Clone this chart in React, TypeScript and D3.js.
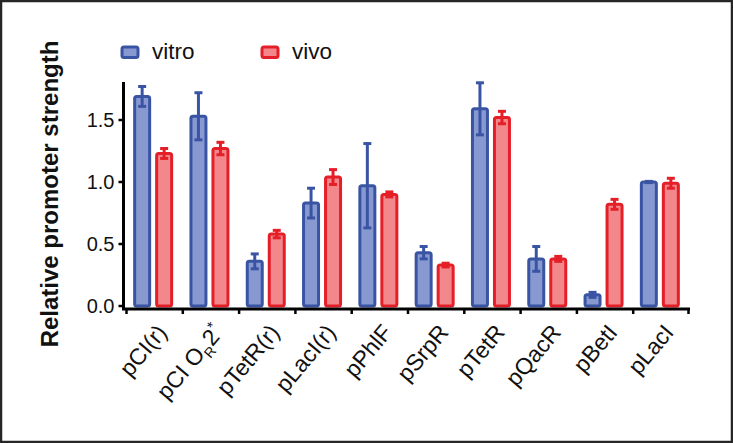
import React from "react";
import * as d3 from "d3";

const categories = ["pCI(r)", "pCI OR2*", "pTetR(r)", "pLacI(r)", "pPhlF", "pSrpR", "pTetR", "pQacR", "pBetI", "pLacI"];
const vitro = [1.69, 1.53, 0.36, 0.83, 0.97, 0.43, 1.59, 0.38, 0.09, 1.0];
const vitroErr = [0.08, 0.19, 0.06, 0.12, 0.34, 0.05, 0.21, 0.1, 0.02, 0.005];
const vivo = [1.23, 1.27, 0.58, 1.04, 0.9, 0.33, 1.52, 0.38, 0.82, 0.99];
const vivoErr = [0.04, 0.05, 0.03, 0.06, 0.02, 0.015, 0.05, 0.02, 0.04, 0.04];
const yTicks = [0, 0.5, 1.0, 1.5];
const seriesNames = ["vitro", "vivo"];

const W = 733;
const H = 443;
const FONT = "'Liberation Sans', Arial, Helvetica, sans-serif";
const BLUE = "#3a54a4";
const BLUE_FILL = "#8898d0";
const RED = "#e51f28";
const RED_FILL = "#f2878c";

export default function App() {
  const x = d3.scaleBand<string>().domain(categories).range([125, 688]).paddingInner(0).paddingOuter(0);
  const y = d3.scaleLinear().domain([0, 1.8]).range([306, 82.8]);
  const bw = x.bandwidth();
  const barW = 15;
  const axisY = 309;
  const axisX = 123.5;

  const series = [
    { name: seriesNames[0], vals: vitro, errs: vitroErr, stroke: BLUE, fill: BLUE_FILL, off: -18.5 },
    { name: seriesNames[1], vals: vivo, errs: vivoErr, stroke: RED, fill: RED_FILL, off: 3.5 },
  ];

  return (
    <svg width={W} height={H} style={{ position: "absolute", left: 0, top: 0, background: "#fff" }} fontFamily={FONT}>
      <rect x={1} y={1} width={W - 2} height={H - 2} fill="#fff" stroke="#262626" strokeWidth={2.5} />

      {/* legend */}
      {series.map((s, i) => (
        <g key={s.name} transform={`translate(${i === 0 ? 122 : 262},47)`}>
          <rect x={0} y={0} width={16} height={10.5} rx={2} fill={s.fill} stroke={s.stroke} strokeWidth={3} />
          <text x={30} y={11.5} fontSize={22.5} fill="#111">{s.name}</text>
        </g>
      ))}

      {/* y axis title */}
      <text transform={`translate(58,194) rotate(-90)`} textAnchor="middle" fontSize={24} fontWeight="bold" fill="#111">
        Relative promoter strength
      </text>

      {/* bars */}
      {series.map((s) => (
        <g key={s.name}>
          {categories.map((c, i) => {
            const cx = (x(c) as number) + bw / 2;
            const bx = cx + s.off;
            const top = y(s.vals[i]);
            const ex = bx + barW / 2;
            const e1 = y(s.vals[i] + s.errs[i]);
            const e0 = y(Math.max(0, s.vals[i] - s.errs[i]));
            return (
              <g key={c}>
                <rect x={bx} y={top} width={barW} height={y(0) - top} rx={2} fill={s.fill} stroke={s.stroke} strokeWidth={3} />
                <line x1={ex} x2={ex} y1={e1} y2={e0} stroke={s.stroke} strokeWidth={3} />
                <line x1={ex - 4} x2={ex + 4} y1={e1} y2={e1} stroke={s.stroke} strokeWidth={3} />
                <line x1={ex - 4} x2={ex + 4} y1={e0} y2={e0} stroke={s.stroke} strokeWidth={3} />
              </g>
            );
          })}
        </g>
      ))}

      {/* y axis */}
      <line x1={axisX} x2={axisX} y1={82} y2={axisY + 1} stroke="#000" strokeWidth={3} />
      {yTicks.map((t) => (
        <g key={t}>
          <line x1={axisX - 5} x2={axisX} y1={y(t)} y2={y(t)} stroke="#000" strokeWidth={2.5} />
          <text x={axisX - 9} y={y(t)} dy="0.36em" textAnchor="end" fontSize={20} fill="#111">
            {d3.format(".1f")(t)}
          </text>
        </g>
      ))}

      {/* x axis */}
      <line x1={axisX - 1.5} x2={690} y1={axisY} y2={axisY} stroke="#000" strokeWidth={3} />
      {categories.map((c) => (
        <line key={c} x1={(x(c) as number) + 1.5} x2={(x(c) as number) + 1.5} y1={axisY} y2={axisY + 5} stroke="#000" strokeWidth={2.5} />
      ))}
      <line x1={688.5} x2={688.5} y1={axisY} y2={axisY + 5} stroke="#000" strokeWidth={2.5} />

      {/* x labels */}
      {categories.map((c, i) => {
        const cx = (x(c) as number) + bw / 2;
        return (
          <text key={c} transform={`translate(${cx + 15},${333}) rotate(-50)`} textAnchor="end" fontSize={23} fill="#111">
            {i === 1 ? (
              <>
                <tspan>pCI O</tspan>
                <tspan fontSize={14} dy={6}>R</tspan>
                <tspan dy={-6}>2</tspan>
                <tspan fontSize={15} dy={-9}>*</tspan>
              </>
            ) : (
              c
            )}
          </text>
        );
      })}
    </svg>
  );
}
